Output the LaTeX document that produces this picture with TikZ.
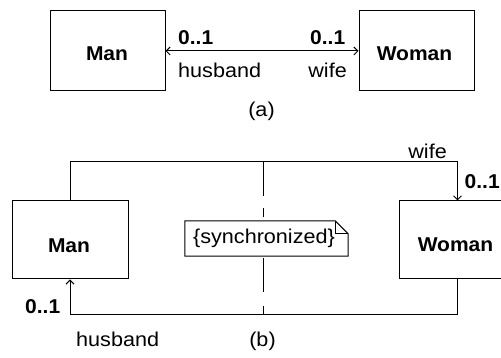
\documentclass[tikz,border=0pt]{standalone}
\usepackage{fontspec}
\setmainfont{Liberation Sans}
\newfontfamily\regfont{Liberation Sans}[FakeStretch=1.08]
\newfontfamily\boldfont{Liberation Sans}[FakeStretch=1.05]
\usetikzlibrary{arrows.meta}
\begin{document}
\begin{tikzpicture}[x=1pt,y=1pt,
  >={Straight Barb[length=4pt,width=8pt]},
  box/.style={draw, line width=1pt, inner sep=0pt},
  boldtxt/.style={font=\fontsize{20}{24}\boldfont\bfseries, inner sep=0pt},
  regtxt/.style={font=\fontsize{20}{24}\regfont, inner sep=0pt},
  assoc/.style={line width=1pt},
  notebox/.style={line width=1pt},
  dashtop/.style={line width=1pt, dash pattern=on 34pt off 12pt on 9pt off 12pt},
  dashbot/.style={line width=1pt, dash pattern=on 9pt off 14pt on 34pt off 12pt}]
\useasboundingbox (0,0) rectangle (501,358);
\clip (0,0) rectangle (501,358);
% ---------- (a) ----------
\node[box, minimum width=115pt, minimum height=80pt] (mana) at (107.5,307) {};
\node[box, minimum width=115pt, minimum height=80pt] (womana) at (416.5,307) {};
\node[boldtxt, anchor=base] (mantxta) at (107,297) {Man};
\node[boldtxt, anchor=base] (womantxta) at (414.5,297) {Woman};
\draw[assoc,<->] (mana.east) -- (womana.west);
\node[boldtxt, anchor=base west] (m1a) at (178,313) {0..1};
\node[boldtxt, anchor=base west] (m2a) at (310,313) {0..1};
\node[regtxt, anchor=base west] (husa) at (178,280) {husband};
\node[regtxt, anchor=base east] (wifa) at (347,280) {wife};
\node[regtxt, anchor=base] (capa) at (261.5,241) {(a)};
% ---------- (b) ----------
\node[box, minimum width=116pt, minimum height=78pt] (manb) at (70,118) {};
\node[box, minimum width=117pt, minimum height=78pt] (womanb) at (457.5,118) {};
\node[boldtxt, anchor=base] (mantxtb) at (69,105) {Man};
\node[boldtxt, anchor=base] (womantxtb) at (455.5,106) {Woman};
\coordinate (topY) at (0,196);
\coordinate (botY) at (0,43);
\draw[assoc,->] (manb.north) |- (womanb.north |- topY) -- (womanb.north);
\draw[assoc,->] (womanb.south) |- (manb.south |- botY) -- (manb.south);
% note
\node[minimum width=163pt, minimum height=35pt, inner sep=0pt] (note) at (266.5,119.5) {};
\node[regtxt] (notetxt) at (264,119.5) {\{synchronized\}};
\draw[notebox] (note.south west) -- (note.north west) -- ([xshift=-13pt]note.north east)
  -- ([yshift=-13pt]note.north east) -- (note.south east) -- cycle;
\draw[line width=0.8pt] ([xshift=-13pt]note.north east) -- ([xshift=-13pt,yshift=-13pt]note.north east)
  -- ([yshift=-13pt]note.north east);
\coordinate (dtop) at (263,196);
\coordinate (dbot) at (263,43);
\draw[dashtop] (dtop) -- (dtop |- note.north);
\draw[dashbot] (dbot) -- (dbot |- note.south);
% labels
\node[regtxt, anchor=base east] (wifb) at (447,199) {wife};
\node[boldtxt, anchor=base west] (m1b) at (464.5,169) {0..1};
\node[boldtxt, anchor=base west] (m2b) at (25,44) {0..1};
\node[regtxt, anchor=base west] (husb) at (76,11) {husband};
\node[regtxt, anchor=base] (capb) at (262.5,11) {(b)};
\end{tikzpicture}
\end{document}
